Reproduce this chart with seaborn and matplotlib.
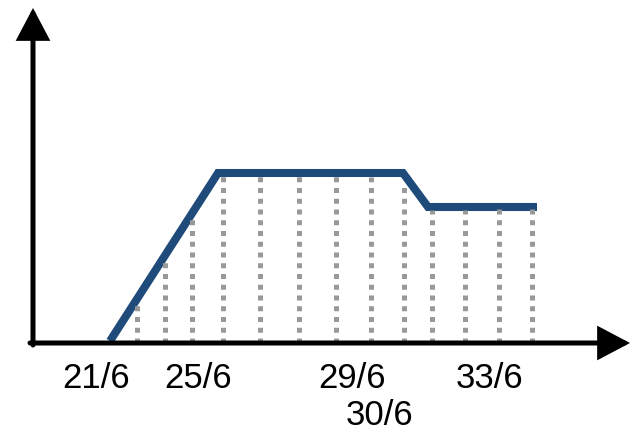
import matplotlib
matplotlib.use("Agg")
import matplotlib.pyplot as plt
import seaborn as sns
import pandas as pd

# ---- data (positions, arbitrary horizontal units) ----
line_x = [11.0, 21.8, 40.3, 42.8, 53.7]
line_y = [0.2, 17.0, 17.0, 13.6, 13.6]

grid_x = [13.7, 16.5, 19.2, 22.3, 26.0, 29.9, 33.6, 37.1, 40.4, 43.2, 46.5, 49.9, 53.2]
grid_top = [4.2, 8.3, 12.6, 17.0, 16.9, 16.9, 16.9, 16.6, 16.0, 13.3, 13.3, 13.5, 13.5]

tick_labels = ["21/6", "25/6", "29/6", "30/6", "33/6"]
tick_pos = [9.6, 19.8, 35.2, 37.9, 48.9]
tick_row = [0, 0, 0, 1, 0]

sns.set_theme(style="white")
plt.rcParams["font.family"] = ["Liberation Sans", "DejaVu Sans"]

fig = plt.figure(figsize=(6.44, 4.48), dpi=100)
ax = fig.add_axes([0, 0, 1, 1])
ax.set_xlim(0, 64.4)
ax.set_ylim(-10.5, 34.3)
ax.axis("off")

df = pd.DataFrame({"x": line_x, "y": line_y})
sns.lineplot(data=df, x="x", y="y", ax=ax, color="#1f4b7a", linewidth=5.8,
             sort=False, estimator=None, zorder=3)
for l in ax.lines:
    l.set_solid_joinstyle("miter")
    l.set_solid_capstyle("butt")

ax.vlines(grid_x, 0, grid_top, colors="#999999", linewidth=3.6,
          linestyles=(0, (1.0, 1.15)), zorder=4)

# axes arrows
arrow_kw = dict(arrowstyle="-|>,head_length=1.8,head_width=0.95",
                color="black", lw=3.6, mutation_scale=10,
                shrinkA=0, shrinkB=0, joinstyle="miter")
ax.annotate("", xy=(63.0, 0), xytext=(3.0, 0), arrowprops=arrow_kw, zorder=5)
ax.annotate("", xy=(3.3, 33.5), xytext=(3.3, -0.2), arrowprops=arrow_kw, zorder=5)

for lab, p, r in zip(tick_labels, tick_pos, tick_row):
    ax.text(p, -3.5 - 3.7 * r, lab, ha="center", va="center", fontsize=25,
            color="black")

fig.savefig("out.png", dpi=100)
